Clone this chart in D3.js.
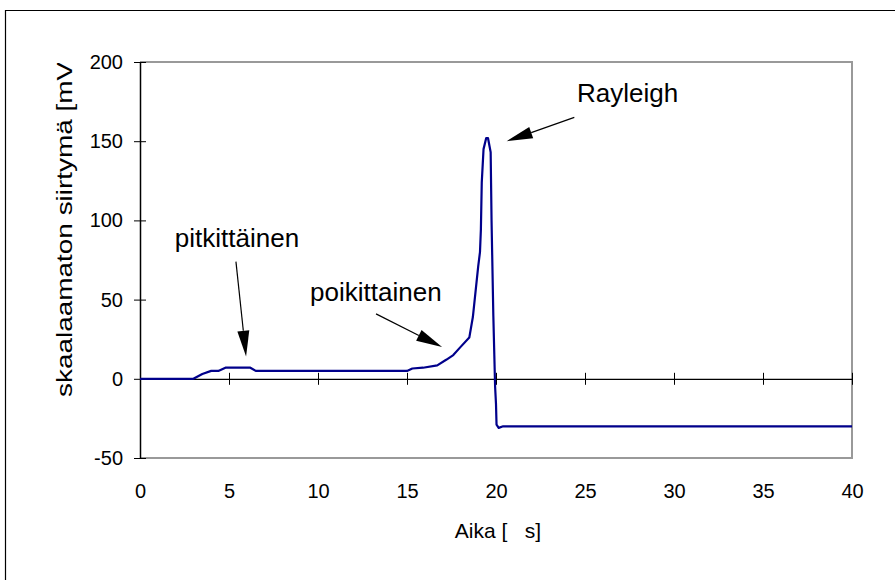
<!DOCTYPE html>
<html>
<head>
<meta charset="utf-8">
<script src="https://cdn.jsdelivr.net/npm/d3@7"></script>
<style>
  body { margin: 0; background: #fff; }
  text { font-family: "Liberation Sans", Arial, sans-serif; fill: #000; }
</style>
</head>
<body>
<div class="chart"></div>
<script>
// time [s] and signal [mV]
var time = [0, 3, 3.5, 4, 4.4, 4.8, 6.2, 6.5, 15, 15.3, 15.9, 16.7, 17.2, 17.6, 18.0, 18.5, 18.7,
  19.0, 19.1, 19.15, 19.2, 19.3, 19.45, 19.55, 19.7, 19.75, 19.85, 19.95, 20.0, 20.03, 20.15, 20.4, 40];
var signal = [0, 0, 3, 5, 5, 7, 7, 5, 5, 6.5, 7, 8.5, 12, 15, 20, 26, 39,
  71, 80, 94, 124, 145, 152, 152, 143, 100, 40, -5, -16, -29, -31, -30, -30];

var xTicks = [0, 5, 10, 15, 20, 25, 30, 35, 40];
var yTicks = [-50, 0, 50, 100, 150, 200];

// annotation labels and arrows, in data units
var notes = [
  { label: "pitkittäinen", tx: 5.45, ty: 83, x1: 5.39, y1: 74, x2: 5.96, y2: 14, anchor: "middle" },
  { label: "poikittainen", tx: 13.25, ty: 49, x1: 13.26, y1: 41, x2: 16.97, y2: 20, anchor: "middle" },
  { label: "Rayleigh", tx: 24.55, ty: 175, x1: 24.4, y1: 165, x2: 20.6, y2: 150, anchor: "start" }
];

var svgWidth = 895;
var svgHeight = 580;

var margin = { top: 62, right: 43, bottom: 122, left: 140 };
var width = svgWidth - margin.left - margin.right;
var height = svgHeight - margin.top - margin.bottom;

var svg = d3.select(".chart")
  .append("svg")
  .attr("width", svgWidth)
  .attr("height", svgHeight);

// outer chart border
svg.append("path")
  .attr("d", "M5.5,600V10.5H900")
  .attr("fill", "none")
  .attr("stroke", "#000")
  .attr("stroke-width", 1.2);

var chartGroup = svg.append("g")
  .attr("transform", `translate(${margin.left}, ${margin.top})`);

var xScale = d3.scaleLinear().domain([0, 40]).range([0, width]);
var yScale = d3.scaleLinear().domain([-50, 200]).range([height, 0]);

// plot area frame (grey)
chartGroup.append("path")
  .attr("d", `M0,0H${width}V${height}H0`)
  .attr("fill", "none")
  .attr("stroke", "#999")
  .attr("stroke-width", 2);

// y axis
var leftAxis = d3.axisLeft(yScale).tickValues(yTicks).tickFormat(d => String(d))
  .tickSizeInner(6).tickSizeOuter(0).tickPadding(11);
var yAxis = chartGroup.append("g").call(leftAxis);
yAxis.selectAll(".tick line").attr("x1", 6).attr("stroke", "#000");
yAxis.select(".domain").attr("stroke", "#000").attr("stroke-width", 1.5);
yAxis.selectAll("text").style("font-size", "20px")
  .attr("font-family", null);

// x axis at zero, labels at the bottom
var bottomAxis = d3.axisBottom(xScale).tickValues(xTicks).tickFormat(d => String(d))
  .tickSizeInner(6).tickSizeOuter(0);
var xAxis = chartGroup.append("g")
  .attr("transform", `translate(0, ${yScale(0)})`)
  .call(bottomAxis);
xAxis.selectAll(".tick line").attr("y1", -6).attr("stroke", "#000");
xAxis.selectAll(".tick").filter(d => d === 0).select("line").remove();
xAxis.select(".domain").attr("stroke", "#000").attr("stroke-width", 1.2);
xAxis.selectAll("text")
  .style("font-size", "20px")
  .attr("font-family", null)
  .attr("y", height - yScale(0) + 26);

// signal line
var line = d3.line()
  .x((d, i) => xScale(time[i]))
  .y(d => yScale(d));

chartGroup.append("path")
  .datum(signal)
  .attr("d", line)
  .attr("fill", "none")
  .attr("stroke", "#00008b")
  .attr("stroke-width", 2.2)
  .attr("stroke-linejoin", "round");

// annotations
notes.forEach(function(n) {
  var ax = xScale(n.x1), ay = yScale(n.y1);
  var bx = xScale(n.x2), by = yScale(n.y2);
  var ang = Math.atan2(by - ay, bx - ax);
  var len = 26, half = 6;
  var cx = bx - len * Math.cos(ang), cy = by - len * Math.sin(ang);

  chartGroup.append("line")
    .attr("x1", ax).attr("y1", ay)
    .attr("x2", cx).attr("y2", cy)
    .attr("stroke", "#000")
    .attr("stroke-width", 1.2);

  chartGroup.append("path")
    .attr("d", `M${bx},${by}L${cx + half * Math.sin(ang)},${cy - half * Math.cos(ang)}` +
      `L${cx - half * Math.sin(ang)},${cy + half * Math.cos(ang)}Z`)
    .attr("fill", "#000");

  chartGroup.append("text")
    .attr("x", xScale(n.tx))
    .attr("y", yScale(n.ty))
    .attr("text-anchor", n.anchor)
    .style("font-size", "26px")
    .text(n.label);
});

// axis titles
chartGroup.append("text")
  .attr("x", width / 2 + 2)
  .attr("y", height + 80)
  .attr("text-anchor", "middle")
  .attr("xml:space", "preserve")
  .style("white-space", "pre")
  .style("font-size", "21px")
  .text("Aika [   s]");

svg.append("defs").append("clipPath")
  .attr("id", "yclip")
  .append("rect")
  .attr("x", 0).attr("y", 63).attr("width", 140).attr("height", 500);

svg.append("g")
  .attr("clip-path", "url(#yclip)")
  .append("text")
  .attr("transform", "translate(72, 397) rotate(-90)")
  .attr("text-anchor", "start")
  .attr("textLength", 343)
  .attr("lengthAdjust", "spacingAndGlyphs")
  .style("font-size", "22px")
  .text("skaalaamaton siirtymä [mV]");
</script>
</body>
</html>
